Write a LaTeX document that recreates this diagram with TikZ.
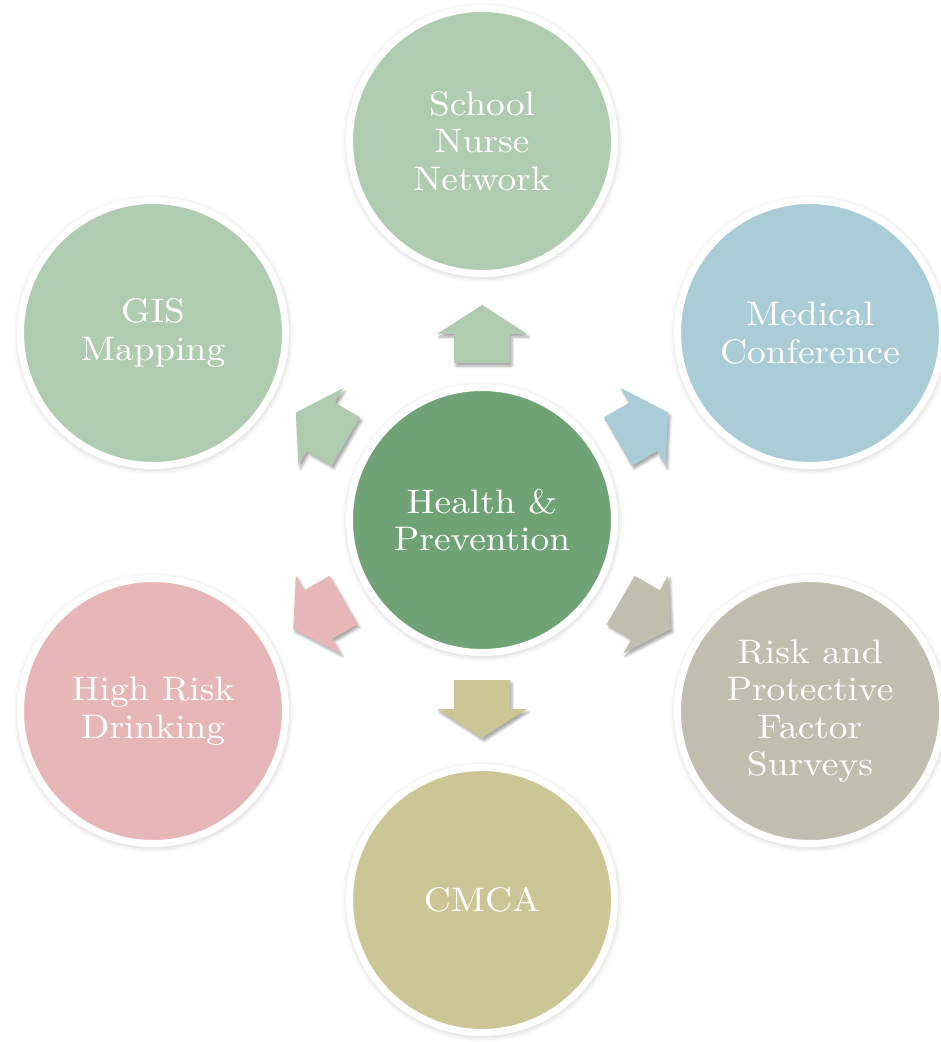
\documentclass[tikz,border=0pt]{standalone}
\usepackage{fontspec}
\setmainfont{lmroman10-regular.otf}[FakeStretch=1.1]
\usetikzlibrary{calc,shadows.blur}
\definecolor{cgreen}{HTML}{AFCBB0}
\definecolor{cblue}{HTML}{A9CCD6}
\definecolor{chub}{HTML}{6FA275}
\definecolor{cgrey}{HTML}{BFBEAF}
\definecolor{colive}{HTML}{CCC697}
\definecolor{cpink}{HTML}{E7B7B8}
\tikzset{
  bubble/.style={circle, draw=white, line width=7pt, minimum size=265pt, inner sep=0pt,
    text=white, align=center, font=\fontsize{34}{37.5}\selectfont,
    blur shadow={shadow xshift=0.5pt, shadow yshift=-1.5pt, shadow scale=1.035,
      shadow blur radius=3.5pt, shadow opacity=12}},
  arrowshadow/.style={blur shadow={shadow xshift=2pt, shadow yshift=-3pt,
      shadow blur radius=2.5pt, shadow opacity=35}}
}
\newcommand\blockarr[3]{%
  \fill[#3, arrowshadow]
    ($(hub.center)+(-#1:157+#2)+(-#1+90:28)$) --
    ($(hub.center)+(-#1:186+#2)+(-#1+90:28)$) --
    ($(hub.center)+(-#1:186+#2)+(-#1+90:45)$) --
    ($(hub.center)+(-#1:215+#2)$) --
    ($(hub.center)+(-#1:186+#2)+(-#1-90:45)$) --
    ($(hub.center)+(-#1:186+#2)+(-#1-90:28)$) --
    ($(hub.center)+(-#1:157+#2)+(-#1-90:28)$) -- cycle;}
\begin{document}
\begin{tikzpicture}[x=1pt,y=-1pt]
\useasboundingbox (0,0) rectangle (941,1042);
\node[bubble, fill=chub] (hub) at (482,520) {Health \&\\Prevention};
\node[bubble, fill=cgreen] (nurse) at (482,141) {School\\Nurse\\Network};
\node[bubble, fill=cgreen] (gis) at (153,333) {GIS\\Mapping};
\node[bubble, fill=cblue] (med) at (810,333) {Medical\\Conference};
\node[bubble, fill=cpink] (hrd) at (153,711) {High Risk\\Drinking};
\node[bubble, fill=cgrey] (rpf) at (810,711) {Risk and\\Protective\\Factor\\Surveys};
\node[bubble, fill=colive] (cmca) at (482,900) {CMCA};
\blockarr{90}{0}{cgreen}
\blockarr{30}{0}{cblue}
\blockarr{150}{0}{cgreen}
\blockarr{210}{3}{cpink}
\blockarr{330}{3}{cgrey}
\blockarr{270}{3}{colive}
\end{tikzpicture}
\end{document}
